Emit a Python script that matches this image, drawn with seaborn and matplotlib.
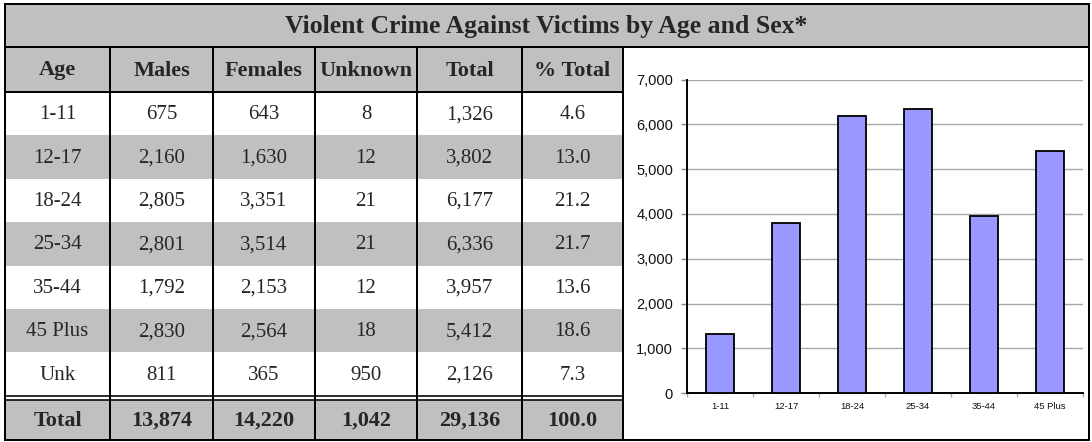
import matplotlib
matplotlib.use('Agg')
import matplotlib.pyplot as plt
from matplotlib.patches import Rectangle
import seaborn as sns

# table data
title = 'Violent Crime Against Victims by Age and Sex*'
columns = ['Age', 'Males', 'Females', 'Unknown', 'Total', '% Total']
age_groups = ['1-11', '12-17', '18-24', '25-34', '35-44', '45 Plus', 'Unk']
males = [675, 2160, 2805, 2801, 1792, 2830, 811]
females = [643, 1630, 3351, 3514, 2153, 2564, 365]
unknown = [8, 12, 21, 21, 12, 18, 950]
totals = [1326, 3802, 6177, 6336, 3957, 5412, 2126]
pct_total = [4.6, 13.0, 21.2, 21.7, 13.6, 18.6, 7.3]

# chart uses only the known age groups
chart_groups = age_groups[:-1]
chart_totals = totals[:-1]

W, H = 1092, 442
GRAY = '#c0c0c0'
BAR = '#9999ff'
px = 72 / 100  # one pixel in points

sns.set_theme(style='white')
plt.rcParams['font.family'] = ['Liberation Serif', 'DejaVu Serif']

fig = plt.figure(figsize=(W / 100, H / 100), dpi=100)
tab = fig.add_axes([0, 0, 1, 1])
tab.set_xlim(0, W)
tab.set_ylim(H, 0)
tab.axis('off')

left, right = 5, 1089
top, bottom = 4, 440
title_bot = 47
head_bot = 92
row_h = 43.4
col_x = [5, 110, 213, 315, 417, 522, 623]
rows_bot = head_bot + row_h * len(age_groups)
total_top = rows_bot + 4

# backgrounds
tab.add_patch(Rectangle((left, top), right - left, title_bot - top, color=GRAY, lw=0))
tab.add_patch(Rectangle((left, title_bot), col_x[-1] - left, head_bot - title_bot, color=GRAY, lw=0))
for i in range(len(age_groups)):
    if i % 2 == 1:
        tab.add_patch(Rectangle((left, head_bot + i * row_h), col_x[-1] - left, row_h, color=GRAY, lw=0))
tab.add_patch(Rectangle((left, total_top), col_x[-1] - left, bottom - total_top, color=GRAY, lw=0))

# texts
tab.text(W / 2, (top + title_bot) / 2 + 1, title, ha='center', va='center',
         fontsize=18.5, fontweight='bold')
centers = [(col_x[i] + col_x[i + 1]) / 2 for i in range(len(columns))]
for c, name in zip(centers, columns):
    tab.text(c, (title_bot + head_bot) / 2 + 1, name, ha='center', va='center',
             fontsize=16, fontweight='bold')

for i, age in enumerate(age_groups):
    y = head_bot + (i + 0.5) * row_h + 1
    vals = [age, f'{males[i]:,}', f'{females[i]:,}', f'{unknown[i]:,}',
            f'{totals[i]:,}', f'{pct_total[i]:.1f}']
    for c, v in zip(centers, vals):
        tab.text(c, y, v, ha='center', va='center', fontsize=15)

tot_vals = ['Total', f'{sum(males):,}', f'{sum(females):,}', f'{sum(unknown):,}',
            f'{sum(totals):,}', f'{sum(pct_total):.1f}']
for c, v in zip(centers, tot_vals):
    tab.text(c, (total_top + bottom) / 2 + 1, v, ha='center', va='center',
             fontsize=16, fontweight='bold')

# lines
lw = 2 * px
tab.add_patch(Rectangle((left, top), right - left, bottom - top, fill=False, ec='black', lw=lw))
tab.plot([left, right], [title_bot, title_bot], color='black', lw=lw)
tab.plot([left, col_x[-1]], [head_bot, head_bot], color='black', lw=lw)
tab.plot([left, col_x[-1]], [rows_bot, rows_bot], color='black', lw=1.6 * px)
tab.plot([left, col_x[-1]], [total_top, total_top], color='black', lw=1.6 * px)
for x in col_x[1:]:
    tab.plot([x, x], [title_bot, bottom], color='black', lw=lw)

# bar chart
ax_l, ax_r = 687, 1083
ax_t, ax_b = 79.5, 393.3
ax = fig.add_axes([ax_l / W, (H - ax_b) / H, (ax_r - ax_l) / W, (ax_b - ax_t) / H])
sns.barplot(x=chart_groups, y=chart_totals, ax=ax, color=BAR, saturation=1,
            edgecolor='black', linewidth=1.3, width=0.41, zorder=3)
ax.set_facecolor('none')
ax.set_ylim(0, 7000)
ax.set_xlim(-0.5, len(chart_groups) - 0.5)
ax.set_yticks(range(0, 7001, 1000))
ax.set_yticklabels([f'{v:,}' for v in range(0, 7001, 1000)],
                   family='Liberation Sans', fontsize=10.5, color='#111111')
ax.set_xticks(range(len(chart_groups)))
ax.set_xticklabels(chart_groups, family='Liberation Sans', fontsize=6.8, color='#111111')
ax.set_xticks([i - 0.5 for i in range(len(chart_groups) + 1)], minor=True)
ax.tick_params(axis='x', which='major', length=0, pad=6)
ax.tick_params(axis='x', which='minor', length=3, color='#aaaaaa', width=1, bottom=True)
ax.tick_params(axis='y', length=4, color='#888888', width=1, left=True, pad=6)
ax.yaxis.grid(True, color='#a6a6a6', lw=1, zorder=0)
ax.set_axisbelow(True)
for s in ['top', 'right']:
    ax.spines[s].set_visible(False)
for s in ['left', 'bottom']:
    ax.spines[s].set_color('black')
    ax.spines[s].set_linewidth(1.4)

fig.savefig('out.png', dpi=100)
